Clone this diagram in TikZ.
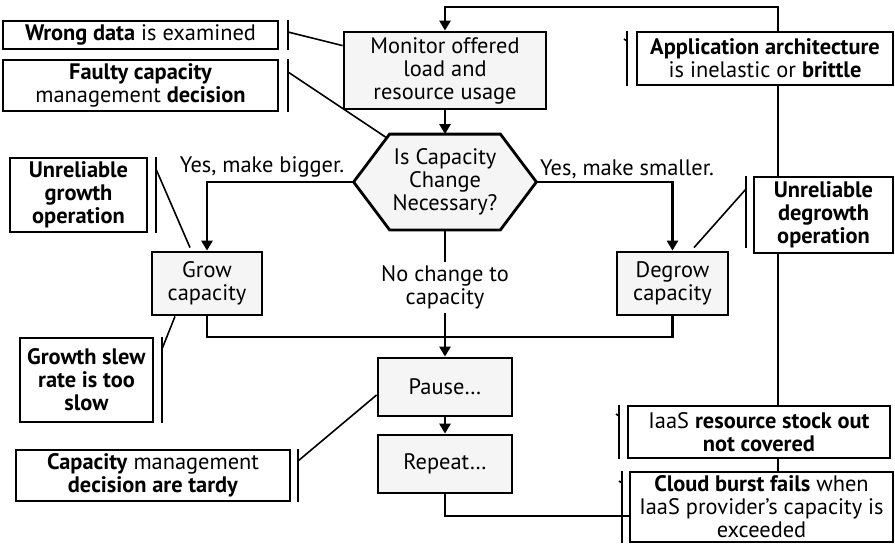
\documentclass[tikz,border=0pt]{standalone}
\usepackage{fontspec}
\setmainfont{PT Sans}
\usetikzlibrary{arrows.meta,backgrounds}

\begin{document}
\begin{tikzpicture}[x=0.5pt,y=-0.5pt,
     txt/.style={align=center,inner sep=0pt,font=\fontsize{11.2}{11.5}\selectfont},
     proc/.style={txt,draw,line width=1.4pt,fill=gray!8},
     fail/.style={txt,draw,line width=1pt,fill=white},
     flow/.style={line width=1.3pt},
     arr/.style={flow,-{Triangle[length=5pt,width=5.5pt]}},
     brk/.style={line width=1pt},
     lead/.style={line width=0.8pt}]
  \useasboundingbox (0,0) rectangle (895,543);
  \node[proc,minimum width=101pt,minimum height=38.5pt] (mon) at (445,70.5)
    {Monitor offered\\load and\\resource usage};
  \node[txt,minimum width=91pt,minimum height=47.5pt] (chk) at (445,182)
    {Is Capacity\\Change\\Necessary?};
  \begin{scope}[on background layer]
    \draw[flow,line width=1.4pt,fill=gray!8] (chk.west) -- ([xshift=18pt]chk.north west)
      -- ([xshift=-18pt]chk.north east) -- (chk.east)
      -- ([xshift=-18pt]chk.south east) -- ([xshift=18pt]chk.south west) -- cycle;
  \end{scope}
  \node[proc,minimum width=55pt,minimum height=31.5pt] (grow) at (207,283.5) {Grow\\capacity};
  \node[proc,minimum width=55.5pt,minimum height=31.5pt] (degrow) at (672.5,283.5) {Degrow\\capacity};
  \node[proc,minimum width=67pt,minimum height=29pt] (pause) at (445,387) {Pause\ldots};
  \node[proc,minimum width=67pt,minimum height=29pt] (rep) at (445,464) {Repeat\ldots};
  \node[txt] (big) at (262,167) {Yes, make bigger.};
  \node[txt] (small) at (627,169) {Yes, make smaller.};
  \node[txt,fill=white,minimum height=25.5pt] (nochg) at (445,287.5) {No change to\\capacity};

  \node[fail,minimum width=137.5pt,minimum height=14pt] (f1) at (140.5,35)
    {\textbf{Wrong data} is examined};
  \node[fail,minimum width=137.5pt,minimum height=25.5pt] (f2) at (140.5,85.5)
    {\textbf{Faulty capacity}\\management \textbf{decision}};
  \node[fail,minimum width=68.5pt,minimum height=37pt] (f3) at (78.5,195)
    {\textbf{Unreliable}\\\textbf{growth}\\\textbf{operation}};
  \node[fail,minimum width=66.5pt,minimum height=42pt] (f4) at (86.5,380)
    {\textbf{Growth slew}\\\textbf{rate is too}\\\textbf{slow}};
  \node[fail,minimum width=137pt,minimum height=25.5pt] (f5) at (153,475.5)
    {\textbf{Capacity} management\\\textbf{decision are tardy}};
  \node[fail,minimum width=128pt,minimum height=26.5pt] (f6) at (765,58.5)
    {\textbf{Application architecture}\\is inelastic or \textbf{brittle}};
  \node[fail,minimum width=69.5pt,minimum height=38pt] (f7) at (823.5,215)
    {\textbf{Unreliable}\\\textbf{degrowth}\\\textbf{operation}};
  \node[fail,minimum width=131pt,minimum height=26pt] (f8) at (759,432)
    {IaaS \textbf{resource stock out}\\\textbf{not covered}};
  \node[fail,minimum width=131.5pt,minimum height=35pt] (f9) at (761.5,507)
    {\textbf{Cloud burst fails} when\\IaaS provider’s capacity is\\exceeded};

  \coordinate (join) at (445,337);
  \coordinate (bot) at (445,516);
  \coordinate (spine) at (778,7);
  \draw[arr] (mon) -- (chk);
  \draw[arr] (chk.west) -| (grow);
  \draw[arr] (chk.east) -| (degrow);
  \draw[flow] (chk) -- (nochg);
  \draw[arr] (nochg) -- (pause);
  \draw[flow] (grow) |- (join) -| (degrow);
  \draw[arr] (pause) -- (rep);
  \draw[flow] (rep) -- (bot) -- (bot -| f9.west);
  \draw[flow] (f9.north -| spine) -- (f8.south -| spine);
  \draw[flow] (f8.north -| spine) -- (f7.south -| spine);
  \draw[flow] (f7.north -| spine) -- (f6.south -| spine);
  \draw[arr] (f6.north -| spine) -- (spine) -| (mon);

  \draw[brk] ([xshift=4.5pt]f1.north east) -- ([xshift=4.5pt]f1.south east);
  \draw[lead] ([xshift=4.5pt,yshift=-6pt]f1.north east) -- ([yshift=-7.5pt]mon.north west);
  \draw[brk] ([xshift=4.5pt]f2.north east) -- ([xshift=4.5pt]f2.south east);
  \draw[lead] ([xshift=4.5pt,yshift=-6.5pt]f2.north east) -- ([xshift=16pt,yshift=-1.5pt]chk.north west);
  \draw[brk] ([xshift=4pt]f3.north east) -- ([xshift=4pt]f3.south east);
  \draw[lead] ([xshift=4pt,yshift=-6pt]f3.north east) -- ([xshift=-8.5pt,yshift=1.5pt]grow.north);
  \draw[brk] ([xshift=4pt]f4.north east) -- ([xshift=4pt]f4.south east);
  \draw[lead] ([xshift=4pt,yshift=-6pt]f4.north east) -- ([xshift=-16pt]grow.south);
  \draw[brk] ([xshift=3.5pt]f5.north east) -- ([xshift=3.5pt]f5.south east);
  \draw[lead] ([xshift=3.5pt,yshift=-6pt]f5.north east) -- ([yshift=-4pt]pause.west);
  \draw[brk] ([xshift=-3.5pt]f7.north west) -- ([xshift=-3.5pt,yshift=3pt]f7.south west);
  \draw[lead] ([xshift=-3.5pt,yshift=-6.5pt]f7.north west) -- ([xshift=10.75pt,yshift=1.5pt]degrow.north);
  \draw[brk] ([xshift=-4.5pt]f6.north west) -- ([xshift=-4.5pt]f6.south west);
  \draw[lead] ([xshift=-4.5pt,yshift=-5pt]f6.north west) -- ++(-3,-2);
  \draw[brk] ([xshift=-4pt]f8.north west) -- ([xshift=-4pt]f8.south west);
  \draw[lead] ([xshift=-4pt,yshift=-5.5pt]f8.north west) -- ++(-3,-2);
  \draw[brk] ([xshift=-3.5pt]f9.north west) -- ([xshift=-3.5pt]f9.south west);
  \draw[lead] ([xshift=-3.5pt,yshift=-6pt]f9.north west) -- ++(-3,-2);
\end{tikzpicture}
\end{document}
